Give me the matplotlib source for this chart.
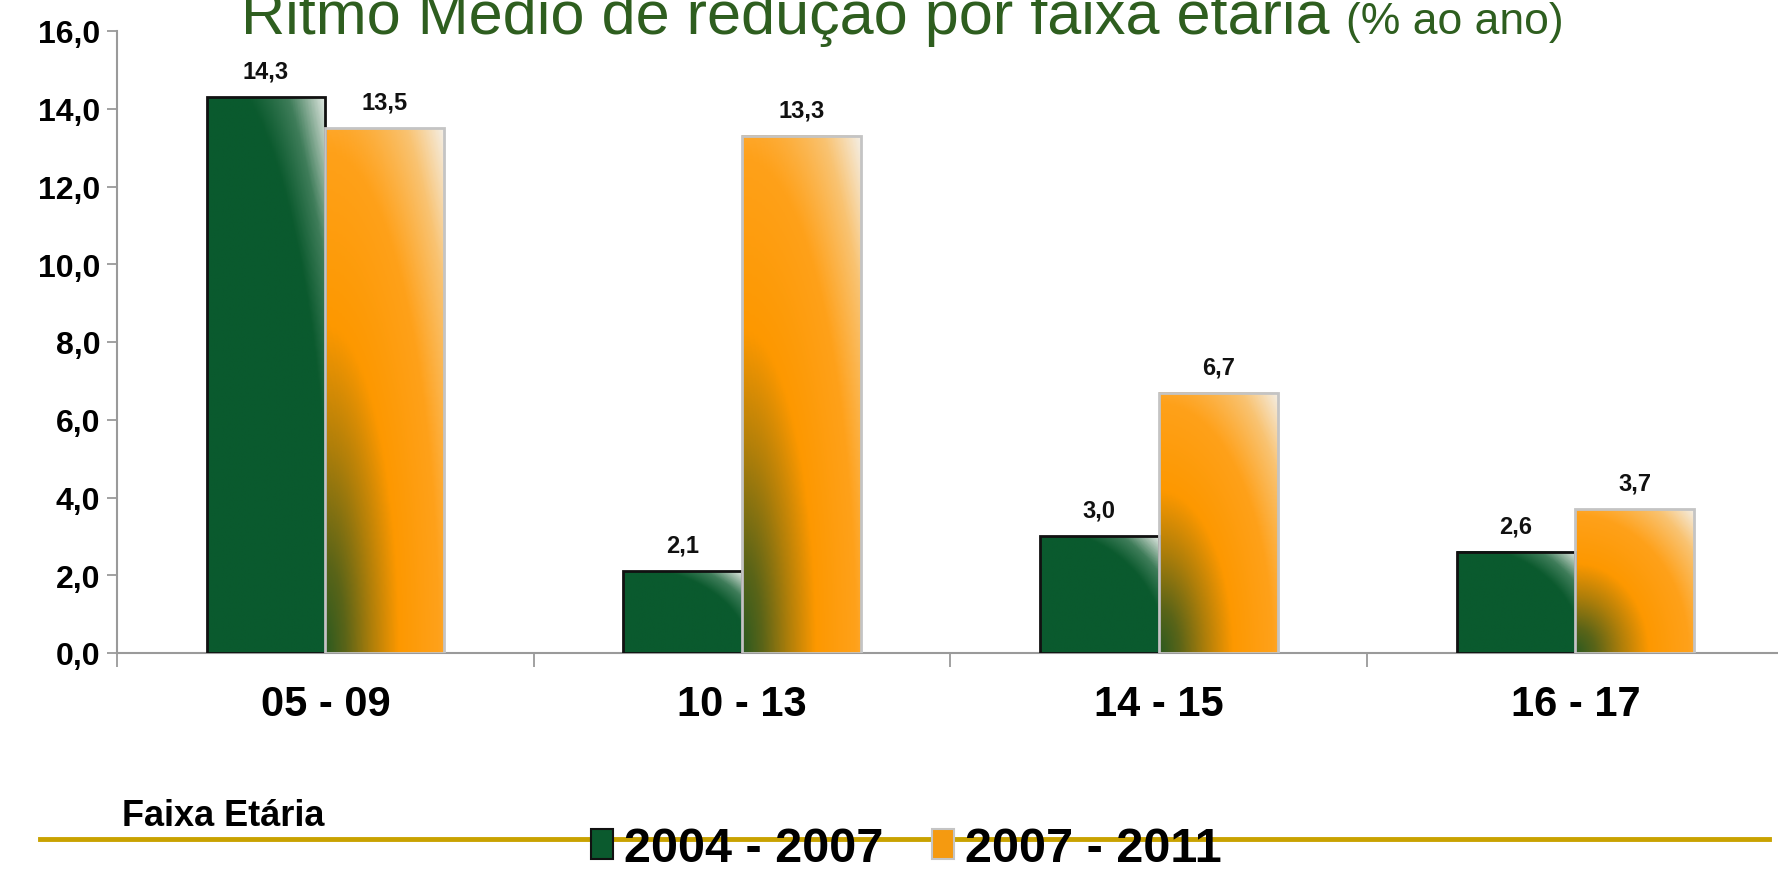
import numpy as np
import matplotlib
matplotlib.use("Agg")
import matplotlib.pyplot as plt
from matplotlib.colors import LinearSegmentedColormap
from matplotlib.patches import Patch
from matplotlib.lines import Line2D
from matplotlib.ticker import FuncFormatter, FixedLocator

plt.rcParams['font.family'] = ['Liberation Sans', 'DejaVu Sans']

# data
faixas = ['05 - 09', '10 - 13', '14 - 15', '16 - 17']
periodos = ['2004 - 2007', '2007 - 2011']
v_2004_2007 = [14.3, 2.1, 3.0, 2.6]
v_2007_2011 = [13.5, 13.3, 6.7, 3.7]

green_cmap = LinearSegmentedColormap.from_list('verde', [
    (0.0, '#0a5a2e'), (0.75, '#0b5a2e'), (0.86, '#3f7d5a'),
    (0.95, '#a9c2b2'), (1.0, '#e2eae4')])
orange_cmap = LinearSegmentedColormap.from_list('laranja', [
    (0.0, '#2c5a20'), (0.12, '#5a6418'), (0.28, '#b07f0a'),
    (0.44, '#fd9800'), (0.68, '#ffa11a'), (0.86, '#f9c372'),
    (1.0, '#f4eee4')])

# radial shading from the bottom-left corner of each bar
uu, vv = np.meshgrid(np.linspace(0, 1, 160), np.linspace(0, 1, 160))
shade = np.sqrt(uu**2 + vv**2) / np.sqrt(2)

fig = plt.figure(figsize=(17.78, 8.70), dpi=100)
ax = fig.add_axes([117/1778, 1 - 654/870, 1 - 117/1778, (654 - 32)/870])

x = np.arange(len(faixas))
w = 0.285

def fmt(v):
    return f"{v:.1f}".replace('.', ',')

series = [(v_2004_2007, -w/2, green_cmap, '#111111'),
          (v_2007_2011, w/2, orange_cmap, '#c4c4c4')]
for vals, off, cmap, ec in series:
    bars = ax.bar(x + off, vals, w, facecolor='none', edgecolor=ec,
                  linewidth=2, zorder=3)
    for b in bars:
        x0, h = b.get_x(), b.get_height()
        ax.imshow(shade, cmap=cmap, origin='lower', aspect='auto',
                  extent=[x0, x0 + w, 0, h], zorder=2, interpolation='bilinear')
        ax.annotate(fmt(h), (x0 + w/2, h), xytext=(0, 14),
                    textcoords='offset points', ha='center', va='baseline',
                    fontsize=17, fontweight='bold', color='#111111')

ax.set_xlim(-0.5, 3.486)
ax.set_ylim(0, 16)

ax.yaxis.set_major_locator(FixedLocator(np.arange(0, 17, 2)))
ax.yaxis.set_major_formatter(FuncFormatter(lambda v, p: fmt(v)))
ax.tick_params(axis='y', direction='out', length=7, width=1.3, color='#9a9a9a',
               pad=5, labelsize=23)
for t in ax.get_yticklabels():
    t.set_fontweight('bold')

ax.set_xticks([-0.5, 0.5, 1.5, 2.5])
ax.set_xticklabels([])
ax.set_xticks(x, minor=True)
ax.set_xticklabels(faixas, minor=True, fontsize=30, fontweight='bold')
ax.tick_params(axis='x', which='major', direction='out', length=10, width=1.3,
               color='#9a9a9a')
ax.tick_params(axis='x', which='minor', length=0, pad=22)

for s in ['top', 'right']:
    ax.spines[s].set_visible(False)
for s in ['left', 'bottom']:
    ax.spines[s].set_color('#9a9a9a')
    ax.spines[s].set_linewidth(1.5)
ax.spines['bottom'].set_zorder(1)
ax.patch.set_alpha(0)

# title
t1 = fig.text(241/1778, 1 - 34/870, 'Ritmo Médio de redução por faixa etária ',
              fontsize=44, color='#2e5e1f', va='baseline', ha='left')
fig.canvas.draw()
bb = t1.get_window_extent(fig.canvas.get_renderer())
fig.text(bb.x1 / fig.bbox.width, 1 - 34/870, '(% ao ano)', fontsize=32,
         color='#2e5e1f', va='baseline', ha='left')

fig.text(122/1778, 1 - 817/870, 'Faixa Etária', fontsize=26,
         fontweight='bold', va='center', ha='left')

fig.add_artist(Line2D([40/1778, 1769/1778], [1 - 840/870] * 2,
                      transform=fig.transFigure, color='#c9a200', lw=3.5,
                      zorder=1))

handles = [Patch(facecolor='#0b5a2e', edgecolor='#111111', lw=1.5),
           Patch(facecolor='#f59a10', edgecolor='#c4c4c4', lw=1.5)]
leg = fig.legend(handles, periodos, loc='center', ncol=2,
                 bbox_to_anchor=(0.51, 1 - 850/870), frameon=False,
                 prop={'size': 35, 'weight': 'bold'}, handlelength=0.44,
                 handleheight=0.58, handletextpad=0.24, columnspacing=1.0,
                 borderpad=0, borderaxespad=0)
leg.set_zorder(5)

fig.savefig('out.png', dpi=100)
